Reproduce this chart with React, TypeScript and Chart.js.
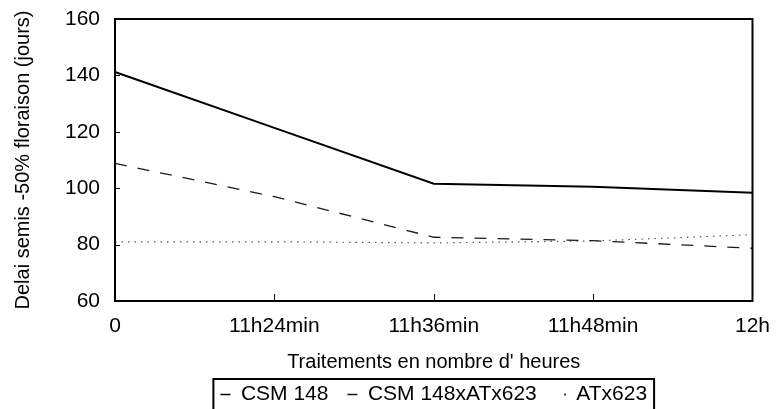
import React, { useEffect, useRef } from 'react';
import { Chart, registerables } from 'chart.js';

Chart.register(...registerables);

const FONT = '"Liberation Sans", Arial, Helvetica, sans-serif';

// ---- data ----
const categories = ['0', '11h24min', '11h36min', '11h48min', '12h'];
const csm148 = [141.2, 121.4, 101.6, 100.5, 98.4];
const csm148xATx623 = [108.8, 97.0, 82.6, 81.4, 78.7];
const atx623 = [81.0, 81.0, 80.6, 81.3, 83.5];
const seriesNames = ['CSM 148', 'CSM 148xATx623', 'ATx623'];
const yTicks = { min: 60, max: 160, step: 20 };
const xTitle = "Traitements en nombre d' heures";
const yTitle = 'Delai semis -50% floraison (jours)';

const framePlugin = {
  id: 'frameAndTicks',
  afterDatasetsDraw(chart: any) {
    const { ctx, chartArea } = chart;
    const { left, right, top, bottom } = chartArea;
    ctx.save();
    ctx.strokeStyle = '#000';
    // inner tick marks
    ctx.lineWidth = 1;
    const xs = chart.scales.x;
    for (let i = 1; i < xs.ticks.length - 1; i++) {
      const px = Math.round(xs.getPixelForTick(i)) + 0.5;
      ctx.beginPath();
      ctx.moveTo(px, bottom);
      ctx.lineTo(px, bottom - 7);
      ctx.stroke();
    }
    const ys = chart.scales.y;
    for (let i = 1; i < ys.ticks.length - 1; i++) {
      const py = Math.round(ys.getPixelForTick(i)) + 0.5;
      ctx.beginPath();
      ctx.moveTo(left, py);
      ctx.lineTo(left + 5, py);
      ctx.stroke();
    }
    // frame
    ctx.lineWidth = 2;
    ctx.strokeRect(left, top, right - left, bottom - top);
    ctx.restore();
  },
  afterDraw(chart: any) {
    const lg = chart.legend;
    if (!lg || !lg.legendHitBoxes || !lg.legendHitBoxes.length) return;
    const boxes = lg.legendHitBoxes;
    const first = boxes[0];
    const last = boxes[boxes.length - 1];
    const x0 = first.left - 7;
    const x1 = last.left + last.width + 7;
    const y0 = first.top - 5;
    const { ctx } = chart;
    ctx.save();
    ctx.strokeStyle = '#000';
    ctx.lineWidth = 2;
    ctx.strokeRect(x0, y0, x1 - x0, chart.height + 10 - y0);
    ctx.restore();
  },
};

export default function App() {
  const ref = useRef<HTMLCanvasElement>(null);

  useEffect(() => {
    if (!ref.current) return;
    const chart = new Chart(ref.current, {
      type: 'line',
      data: {
        labels: categories,
        datasets: [
          {
            label: seriesNames[0],
            data: csm148,
            borderColor: '#000',
            borderWidth: 2,
            pointRadius: 0,
            tension: 0,
            pointStyle: 'line',
          },
          {
            label: seriesNames[1],
            data: csm148xATx623,
            borderColor: '#1a1a1a',
            borderWidth: 1.3,
            borderDash: [12, 11],
            pointRadius: 0,
            tension: 0,
            pointStyle: 'line',
          },
          {
            label: seriesNames[2],
            data: atx623,
            borderColor: '#555',
            borderWidth: 1.2,
            borderDash: [1.5, 5],
            pointRadius: 0,
            tension: 0,
            pointStyle: 'line',
          },
        ],
      },
      options: {
        responsive: false,
        animation: false,
        devicePixelRatio: 1,
        layout: { padding: { top: 19, right: 24, bottom: -6, left: 0 } },
        plugins: {
          tooltip: { enabled: false },
          legend: {
            position: 'bottom',
            fullSize: false,
            labels: {
              color: '#000',
              font: { family: FONT, size: 21 },
              usePointStyle: true,
              pointStyleWidth: 10,
              boxWidth: 10,
              padding: 19,
              generateLabels(ch: any) {
                const items = (Chart.defaults.plugins.legend.labels as any).generateLabels(ch);
                return items.map((it: any, i: number) => {
                  const o = { ...it, pointStyle: 'line', fontColor: '#000', lineWidth: 1.5 };
                  if (i === 2) {
                    o.lineDash = [1.5, 8.5];
                    o.lineDashOffset = 1.5;
                    o.strokeStyle = '#000';
                    o.lineWidth = 2;
                  }
                  return o;
                });
              },
            },
          },
        },
        scales: {
          x: {
            type: 'category',
            offset: false,
            grid: { display: false, drawTicks: false },
            border: { display: false },
            ticks: {
              color: '#000',
              font: { family: FONT, size: 21 },
              padding: 13,
              maxRotation: 0,
              autoSkip: false,
            },
            title: {
              display: true,
              text: xTitle,
              color: '#000',
              font: { family: FONT, size: 20 },
              padding: { top: 0, bottom: -9 },
            },
            afterFit(scale: any) {
              scale.height = 64;
            },
          },
          y: {
            min: yTicks.min,
            max: yTicks.max,
            grid: { display: false, drawTicks: false },
            border: { display: false },
            ticks: {
              stepSize: yTicks.step,
              color: '#000',
              font: { family: FONT, size: 21 },
              padding: 15,
            },
            title: {
              display: true,
              text: yTitle,
              color: '#000',
              font: { family: FONT, size: 20 },
              padding: { top: 11, bottom: 0 },
            },
            afterFit(scale: any) {
              scale.width = 115;
              scale.paddingTop = 0;
              scale.paddingBottom = 0;
            },
          },
        },
      },
      plugins: [framePlugin],
    } as any);
    return () => chart.destroy();
  }, []);

  return (
    <div style={{ position: 'absolute', left: 0, top: 0, width: 783, height: 409, background: '#fff' }}>
      <canvas ref={ref} width={783} height={409} style={{ display: 'block', width: 783, height: 409 }} />
    </div>
  );
}
